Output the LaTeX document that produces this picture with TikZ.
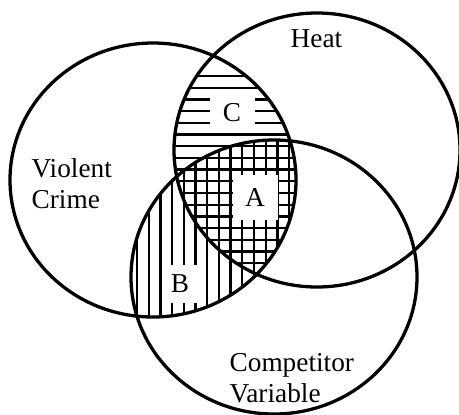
\documentclass[tikz,border=0pt]{standalone}
\usepackage{fontspec}
\setmainfont{Liberation Serif}
\tikzset{
  every picture/.style={line width=2.8pt},
  ring/.style={draw, line width=2.8pt},
  hatch/.style={line width=2pt},
  txt/.style={font=\fontsize{23.3}{26}\selectfont, align=left, inner sep=0pt},
  patch/.style n args={2}{fill=white, inner sep=0pt, font=\fontsize{23.3}{26}\selectfont, minimum width=#1, minimum height=#2},
}
\begin{document}
\begin{tikzpicture}[x=0.03cm, y=-0.03cm]
  \useasboundingbox (0,0) rectangle (459,414);
  \coordinate (crime) at (153,180);
  \coordinate (heat) at (317,150);
  \coordinate (rival) at (274,277);
  \def\rx{143}
  \def\ry{137}
  % horizontal lines: crime and heat
  \begin{scope}
    \clip (crime) ellipse [x radius=\rx, y radius=\ry];
    \clip (heat) ellipse [x radius=\rx, y radius=\ry];
    \foreach \y in {76,87.7,...,272}
      \draw[hatch] (150,\y) -- (320,\y);
  \end{scope}
  % vertical lines: crime and competitor
  \begin{scope}
    \clip (crime) ellipse [x radius=\rx, y radius=\ry];
    \clip (rival) ellipse [x radius=\rx, y radius=\ry];
    \foreach \x in {137,148.7,...,305}
      \draw[hatch] (\x,140) -- (\x,330);
  \end{scope}
  % the three circles
  \draw[ring] (crime) ellipse [x radius=\rx, y radius=\ry];
  \draw[ring] (heat) ellipse [x radius=\rx, y radius=\ry];
  \draw[ring] (rival) ellipse [x radius=\rx, y radius=\ry];
  % region letters
  \node[patch={1.35cm}{0.9cm}] (c) at (232,113) {C};
  \node[patch={1.35cm}{1.35cm}] (a) at (255,197) {A};
  \node[patch={1.1cm}{1.15cm}] (b) at (180,284) {B};
  % circle names
  \node[txt, anchor=base] (heatname) at (316.5,47) {Heat};
  \node[txt, anchor=base west] (crimename) at (30,208) {Violent\\Crime};
  \node[txt, anchor=base west] (rivalname) at (228,402) {Competitor\\Variable};
\end{tikzpicture}
\end{document}
